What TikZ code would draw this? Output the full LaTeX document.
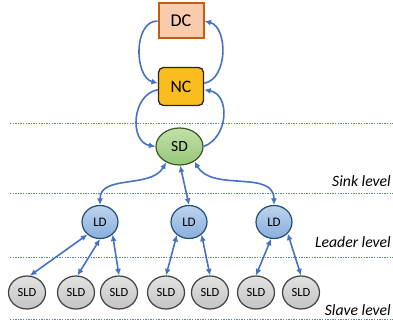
\documentclass[tikz,border=0pt]{standalone}
\usepackage{fontspec}
\setmainfont{Carlito}
\usetikzlibrary{shapes.geometric,arrows.meta}
\definecolor{arrc}{HTML}{4472C4}
\definecolor{sepc}{HTML}{5B7FC8}
\definecolor{dcfill}{HTML}{F8CBAD}
\definecolor{dcdraw}{HTML}{C55A11}
\definecolor{ncfill}{HTML}{FBBC1E}
\definecolor{sdtop}{HTML}{C2DFAA}
\definecolor{sdbot}{HTML}{97C878}
\definecolor{sddraw}{HTML}{385723}
\definecolor{ldtop}{HTML}{BDD3EE}
\definecolor{ldbot}{HTML}{8AAEDC}
\definecolor{lddraw}{HTML}{1F4E79}
\definecolor{sldtop}{HTML}{E2E2E2}
\definecolor{sldbot}{HTML}{C4C4C4}
\definecolor{slddraw}{HTML}{404040}
\begin{document}
\begin{tikzpicture}[x=1pt,y=1pt,
  dcbox/.style={rectangle,fill=dcfill,draw=dcdraw,line width=2pt,minimum width=45pt,minimum height=35pt,inner sep=0pt,font=\fontsize{18}{20}\selectfont},
  ncbox/.style={rectangle,rounded corners=5pt,fill=ncfill,draw=black!85,line width=1.3pt,minimum width=45pt,minimum height=38pt,inner sep=0pt,font=\fontsize{17.5}{20}\selectfont},
  sdell/.style={ellipse,top color=sdtop,bottom color=sdbot,draw=sddraw,line width=1.2pt,minimum width=47pt,minimum height=37pt,inner sep=0pt,font=\fontsize{15.5}{18}\selectfont},
  ldell/.style={ellipse,top color=ldtop,bottom color=ldbot,draw=lddraw,line width=1.2pt,minimum width=36pt,minimum height=33pt,inner sep=0pt,font=\fontsize{13}{15}\selectfont},
  sldell/.style={ellipse,top color=sldtop,bottom color=sldbot,draw=slddraw,line width=1.2pt,minimum width=37pt,minimum height=33pt,inner sep=0pt,font=\fontsize{12.5}{15}\selectfont},
  lvl/.style={anchor=east,inner sep=0pt,font=\fontsize{15.7}{18}\selectfont\itshape},
  sep/.style={draw=sepc,line width=0.9pt,dash pattern=on 1.3pt off 1.3pt},
  arr/.style={draw=arrc,line width=1.6pt,-{Latex[length=6.5pt,width=6pt]}},
  darr/.style={draw=arrc,line width=1.6pt,{Latex[length=6.5pt,width=6pt]}-{Latex[length=6.5pt,width=6pt]}}
]
\useasboundingbox (0,0) rectangle (393,-323);

% separators
\coordinate (s1a) at (10,-123); \coordinate (s1b) at (393,-123);
\coordinate (s2a) at (10,-193); \coordinate (s2b) at (393,-193);
\coordinate (s3a) at (10,-257); \coordinate (s3b) at (393,-257);
\coordinate (s4a) at (10,-319); \coordinate (s4b) at (393,-319);
\draw[sep] (s1a) -- (s1b);
\draw[sep] (s2a) -- (s2b);
\draw[sep] (s3a) -- (s3b);
\draw[sep] (s4a) -- (s4b);

% nodes
\node[dcbox] (DC) at (181,-21) {DC};
\node[ncbox] (NC) at (181,-86.5) {NC};
\node[sdell] (SD) at (179.5,-146.5) {SD};
\node[ldell] (LD1) at (100,-222) {LD};
\node[ldell] (LD2) at (189,-222) {LD};
\node[ldell] (LD3) at (274,-222) {LD};
\node[sldell] (S1) at (27,-292.5) {SLD};
\node[sldell] (S2) at (76,-292.5) {SLD};
\node[sldell] (S3) at (119,-292.5) {SLD};
\node[sldell] (S4) at (166,-292.5) {SLD};
\node[sldell] (S5) at (210,-292.5) {SLD};
\node[sldell] (S6) at (256,-292.5) {SLD};
\node[sldell] (S7) at (301,-292.5) {SLD};

% level labels
\node[lvl] (L1) at (391,-181) {Sink level};
\node[lvl] (L2) at (391,-242) {Leader level};
\node[lvl] (L3) at (391,-310) {Slave level};

% top connectors
\draw[arr] (DC.west) to[out=180,in=165] (NC.172);
\draw[arr] (NC.8) to[out=10,in=-15] (DC.east);
\draw[arr] (NC.188) to[out=190,in=170,looseness=1.2] (SD.west);
\draw[arr] (SD.east) to[out=20,in=-10,looseness=1.2] (NC.-8);

% sink to leaders
\draw[darr] (SD.230) to[out=240,in=90] (LD1.north);
\draw[darr] (SD.-88) -- (LD2.north);
\draw[darr] (SD.-45) to[out=-60,in=90] (LD3.north);

% leaders to slaves
\draw[darr] (LD1.225) -- (S1.80);
\draw[darr] (LD1.270) -- (S2.85);
\draw[darr] (LD1.-45) -- (S3.90);
\draw[darr] (LD2.227) -- (S4.90);
\draw[darr] (LD2.-45) -- (S5.90);
\draw[darr] (LD3.260) -- (S6.90);
\draw[darr] (LD3.-40) -- (S7.90);
\end{tikzpicture}
\end{document}
